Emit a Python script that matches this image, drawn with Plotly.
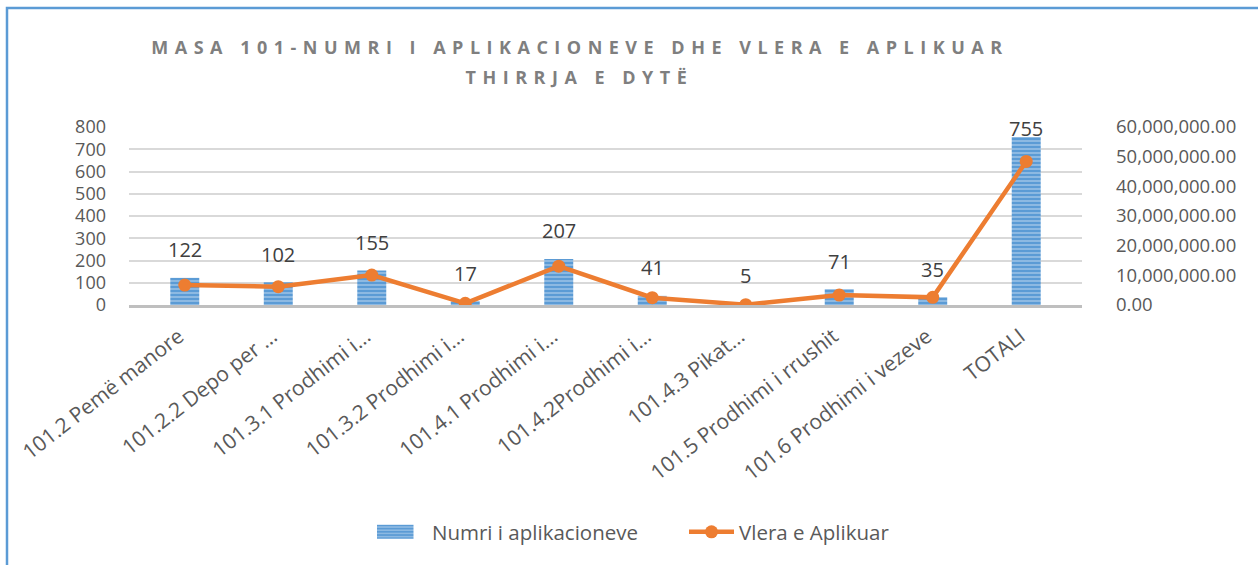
import plotly.graph_objects as go

categories = [
    "101.2 Pemë manore",
    "101.2.2 Depo per …",
    "101.3.1 Prodhimi i...",
    "101.3.2 Prodhimi i...",
    "101.4.1 Prodhimi i...",
    "101.4.2Prodhimi i...",
    "101.4.3 Pikat...",
    "101.5 Prodhimi i rrushit",
    "101.6 Prodhimi i vezeve",
    "TOTALI",
]
num_applications = [122, 102, 155, 17, 207, 41, 5, 71, 35, 755]
applied_value = [6730000, 6170000, 10100000, 560000, 13100000, 2470000, 100000, 3360000, 2580000, 48400000]

left_ticks = list(range(0, 801, 100))
right_ticks = list(range(0, 60000001, 10000000))

title_line1 = "MASA 101-NUMRI I APLIKACIONEVE DHE VLERA E APLIKUAR"
title_line2 = "THIRRJA E DYTË"

FONT = "Open Sans"
TXT = "#595959"

W, H = 1258, 565
L, R, T, B = 129, 176, 127, 260
PW, PH = W - L - R, H - T - B


def px_x(px):
    return (px - L) / PW


def px_y(py):
    return (H - B - py) / PH


fig = go.Figure()
fig.add_trace(go.Bar(
    x=categories, y=num_applications, name="Numri i aplikacioneve",
    width=0.31,
    marker=dict(color="#5B9BD5", line=dict(width=0),
                pattern=dict(shape="-", bgcolor="#5B9BD5", fgcolor="#ffffff",
                             size=4, solidity=0.3)),
    yaxis="y",
))
fig.add_trace(go.Scatter(
    x=categories, y=applied_value, name="Vlera e Aplikuar",
    mode="lines+markers",
    line=dict(color="#ED7D31", width=4.5),
    marker=dict(color="#ED7D31", size=13),
    yaxis="y2",
))

annotations = []
annotations.append(dict(text=title_line1, x=px_x(580), y=px_y(47), xref="paper", yref="paper",
                        showarrow=False, xanchor="center", yanchor="middle",
                        font=dict(family=FONT, size=18, color="#7F7F7F", weight="bold")))
annotations.append(dict(text=title_line2, x=px_x(579), y=px_y(77), xref="paper", yref="paper",
                        showarrow=False, xanchor="center", yanchor="middle",
                        font=dict(family=FONT, size=18, color="#7F7F7F", weight="bold")))
for c, v in zip(categories, num_applications):
    shift = 9 if c == "TOTALI" else 28
    annotations.append(dict(text=str(v), x=c, y=v, xref="x", yref="y",
                            showarrow=False, yshift=shift, yanchor="middle",
                            font=dict(family=FONT, size=20, color="#404040")))

fig.update_layout(
    width=W, height=H,
    margin=dict(l=L, r=R, t=T, b=B, autoexpand=False),
    paper_bgcolor="white", plot_bgcolor="white",
    font=dict(family=FONT, size=19, color=TXT),
    showlegend=True,
    legend=dict(orientation="h", x=px_x(377), xanchor="left", y=px_y(532), yanchor="middle",
                font=dict(family=FONT, size=20.5, color=TXT), itemwidth=45,
                entrywidth=247, entrywidthmode="pixels",
                traceorder="normal"),
    xaxis=dict(type="category", showgrid=False, showline=True, linecolor="#BFBFBF", linewidth=3,
               tickangle=-38, ticks="", ticklabelstandoff=8, ticklabelshift=-6,
               tickfont=dict(family=FONT, size=21, color=TXT), zeroline=False),
    yaxis=dict(range=[0, 800], tickvals=left_ticks, showgrid=True, gridcolor="#D9D9D9", gridwidth=1.5,
               zeroline=False, showline=False, ticks="", ticklabelstandoff=22,
               tickfont=dict(family=FONT, size=18, color=TXT)),
    yaxis2=dict(range=[0, 60000000], tickvals=right_ticks, tickformat=",.2f", overlaying="y",
                side="right", showgrid=False, zeroline=False, showline=False, ticks="",
                ticklabelstandoff=33, tickfont=dict(family=FONT, size=18.5, color=TXT)),
    annotations=annotations,
    shapes=[dict(type="rect", xref="paper", yref="paper",
                 x0=px_x(7), x1=px_x(1320), y0=px_y(640), y1=px_y(8),
                 line=dict(color="#5B9BD5", width=2.5), fillcolor="rgba(0,0,0,0)", layer="below")],
)

post = """
(function(){
  document.body.style.margin = '0';
  document.body.style.padding = '0';
  var gd = document.getElementById('{plot_id}');
  function apply(){
    ['0','1'].forEach(function(i){
      var g = gd.querySelector('g.annotation[data-index="'+i+'"] text');
      if(g){ g.style.letterSpacing = '6.5px'; }
    });
    var traces = gd.querySelectorAll('g.legend g.traces');
    if(traces.length){
      var paths = traces[0].querySelectorAll('g.legendpoints path');
      paths.forEach(function(p){ p.setAttribute('d', 'M9,7H-33V-7H9Z'); });
    }
  }
  setTimeout(apply, 0);
  apply();
  if(gd.on){ gd.on('plotly_afterplot', function(){ setTimeout(apply, 0); }); }
})();
"""

fig.write_html("out.html", post_script=post, config={"displayModeBar": False})
